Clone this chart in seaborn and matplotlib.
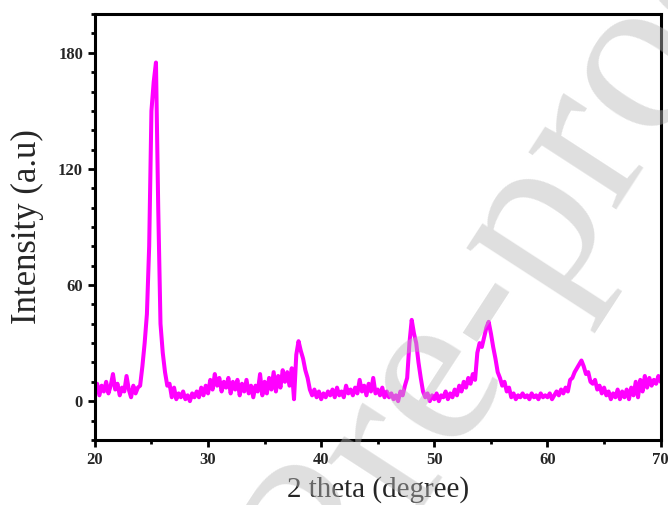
import numpy as np
import pandas as pd
import matplotlib
matplotlib.use("Agg")
import matplotlib.pyplot as plt
from matplotlib.ticker import MultipleLocator
import seaborn as sns

# XRD scan: 2theta from 20 to 70 deg, step 0.2 deg, intensities read per degree (5 points each)
start_angle = 20.0
step = 0.2
intensity_rows = [
    [4, 9, 3, 8, 5],          # 20
    [10, 4, 8, 14, 6],        # 21
    [9, 3, 7, 5, 13],         # 22
    [6, 2, 8, 4, 7],          # 23
    [8, 18, 30, 45, 80],      # 24
    [150, 165, 175, 100, 40], # 25
    [25, 15, 8, 9, 2],        # 26
    [7, 1, 4, 2, 5],          # 27
    [1, 3, 0, 4, 2],          # 28
    [5, 2, 7, 3, 8],          # 29
    [4, 11, 6, 14, 8],        # 30
    [12, 5, 10, 7, 12],       # 31
    [4, 10, 6, 11, 3],        # 32
    [9, 5, 11, 4, 8],         # 33
    [2, 8, 5, 14, 3],         # 34
    [10, 4, 12, 6, 15],       # 35
    [5, 13, 7, 16, 10],       # 36
    [15, 8, 17, 1, 24],       # 37
    [31, 26, 22, 16, 12],     # 38
    [6, 3, 6, 2, 5],          # 39
    [1, 4, 2, 5, 3],          # 40
    [6, 2, 7, 3, 5],          # 41
    [2, 8, 4, 6, 3],          # 42
    [7, 4, 11, 5, 8],         # 43
    [3, 9, 5, 12, 4],         # 44
    [6, 3, 7, 2, 5],          # 45
    [2, 4, 1, 3, 0],          # 46
    [5, 3, 8, 12, 30],        # 47
    [42, 35, 30, 20, 12],     # 48
    [5, 2, 4, 0, 3],          # 49
    [1, 4, 0, 3, 2],          # 50
    [5, 1, 4, 2, 6],          # 51
    [3, 8, 5, 10, 7],         # 52
    [12, 9, 14, 11, 25],      # 53
    [30, 28, 33, 38, 41],     # 54
    [35, 28, 22, 15, 12],     # 55
    [8, 10, 5, 7, 2],         # 56
    [4, 1, 3, 2, 4],          # 57
    [2, 3, 1, 4, 2],          # 58
    [3, 1, 4, 2, 3],          # 59
    [2, 4, 1, 3, 5],          # 60
    [3, 6, 4, 7, 5],          # 61
    [11, 12, 15, 17, 19],     # 62
    [21, 18, 14, 15, 10],     # 63
    [9, 11, 6, 8, 4],         # 64
    [7, 3, 5, 1, 4],          # 65
    [2, 6, 1, 5, 2],          # 66
    [6, 1, 7, 3, 10],         # 67
    [2, 11, 5, 13, 7],        # 68
    [12, 8, 11, 9, 13],       # 69
    [10],                     # 70
]

x_major_ticks = [20, 30, 40, 50, 60, 70]
y_major_ticks = [0, 60, 120, 180]

intensity = [v for row in intensity_rows for v in row]
two_theta = start_angle + step * np.arange(len(intensity))
df = pd.DataFrame({"two_theta": two_theta, "intensity": intensity})

sns.set_theme(style="ticks")
plt.rcParams["font.family"] = ["Liberation Serif", "DejaVu Serif"]

fig = plt.figure(figsize=(6.68, 5.05), dpi=100)
ax = fig.add_axes([0.142, 0.129, 0.847, 0.843])

sns.lineplot(data=df, x="two_theta", y="intensity", ax=ax,
             color="#FF00FF", linewidth=2.9)

ax.set_xlim(20, 70)
ax.set_ylim(-20, 200)
ax.set_xticks(x_major_ticks)
ax.set_yticks(y_major_ticks)
ax.xaxis.set_minor_locator(MultipleLocator(5))
ax.yaxis.set_minor_locator(MultipleLocator(10))
ax.tick_params(axis="both", which="major", direction="out", length=5, width=2,
               color="black", labelsize=12)
ax.tick_params(axis="both", which="minor", direction="out", length=3, width=2,
               color="black")
for lab in ax.get_xticklabels() + ax.get_yticklabels():
    lab.set_fontweight("bold")

for side in ["left", "bottom", "top", "right"]:
    ax.spines[side].set_visible(True)
    ax.spines[side].set_linewidth(2.2)
    ax.spines[side].set_color("black")

ax.set_xlabel("2 theta (degree)", fontsize=21, labelpad=6)
ax.set_ylabel("Intensity (a.u)", fontsize=25, labelpad=10)

# journal watermark on top
fig.text(0.505, -0.065, "Journal Pre-proof", fontsize=165, rotation=57,
         rotation_mode="anchor", ha="center", va="center",
         color=(0.72, 0.72, 0.72), alpha=0.45, zorder=10)

fig.savefig("out.png", dpi=100)
